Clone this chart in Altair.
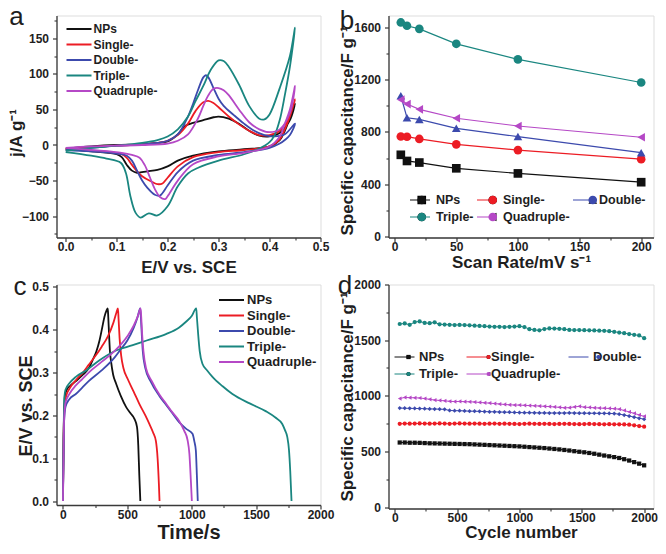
import altair as alt
import pandas as pd

FONT = "Liberation Sans"
INK = "#1e1e1e"
FRAME = "#3a3a3a"

series = ["NPs", "Single-", "Double-", "Triple-", "Quadruple-"]
colors = ["#111111", "#ec1c24", "#3c4aad", "#1a8680", "#b548c6"]

# ---------------- panel a : cyclic voltammograms (E / V, j / A g-1), in scan order
cv_x_nps = [0.00, 0.05, 0.10, 0.15, 0.18, 0.20, 0.22, 0.235, 0.25, 0.27, 0.29, 0.30, 0.32, 0.34, 0.36, 0.38, 0.40, 0.42, 0.44, 0.45,
            0.44, 0.43, 0.42, 0.40, 0.35, 0.30, 0.25, 0.22, 0.20, 0.18, 0.16, 0.14, 0.13, 0.12, 0.11, 0.10, 0.05, 0.00]
cv_y_nps = [-5, -2, 0, 1, 3, 5, 15, 27, 31, 35, 39, 40, 37, 30, 20, 13, 12, 17, 35, 58,
            38, 20, 7, -2, -6, -9, -15, -22, -30, -35, -37, -39, -36, -28, -17, -13, -9, -5]
cv_x_single = [0.00, 0.05, 0.10, 0.15, 0.18, 0.20, 0.22, 0.24, 0.255, 0.27, 0.28, 0.29, 0.30, 0.32, 0.34, 0.36, 0.38, 0.40, 0.42, 0.44, 0.45,
               0.44, 0.43, 0.42, 0.40, 0.35, 0.30, 0.25, 0.22, 0.20, 0.19, 0.18, 0.17, 0.15, 0.13, 0.12, 0.11, 0.05, 0.00]
cv_y_single = [-6, -3, -1, 1, 3, 6, 14, 30, 48, 60, 62, 59, 53, 40, 29, 20, 14, 14, 20, 42, 64,
               40, 22, 8, -2, -7, -10, -17, -30, -46, -54, -55, -52, -44, -28, -18, -13, -8, -6]
cv_x_double = [0.00, 0.05, 0.10, 0.15, 0.18, 0.20, 0.22, 0.24, 0.25, 0.26, 0.27, 0.275, 0.28, 0.29, 0.30, 0.31, 0.33, 0.35, 0.37, 0.39, 0.41, 0.43, 0.45,
               0.44, 0.43, 0.42, 0.40, 0.35, 0.30, 0.25, 0.22, 0.20, 0.185, 0.175, 0.16, 0.15, 0.14, 0.13, 0.12, 0.10, 0.05, 0.00]
cv_y_double = [-7, -4, -1, 1, 3, 6, 15, 40, 58, 78, 95, 98, 95, 80, 65, 55, 42, 30, 20, 14, 12, 15, 30,
               14, 7, 2, -4, -10, -14, -22, -38, -57, -71, -70, -60, -50, -36, -22, -15, -12, -9, -7]
cv_x_triple = [0.00, 0.05, 0.10, 0.15, 0.18, 0.20, 0.22, 0.24, 0.255, 0.27, 0.285, 0.30, 0.31, 0.32, 0.34, 0.36, 0.38, 0.39, 0.40, 0.42, 0.44, 0.45,
               0.44, 0.43, 0.42, 0.41, 0.40, 0.38, 0.35, 0.30, 0.26, 0.24, 0.22, 0.20, 0.18, 0.163, 0.147, 0.137, 0.127, 0.118, 0.108, 0.08, 0.05, 0.00]
cv_y_triple = [-8, -4, -1, 3, 7, 12, 22, 40, 62, 83, 106, 119, 118, 110, 85, 55, 37, 36, 43, 80, 125, 165,
               110, 70, 35, 14, 4, -5, -13, -22, -32, -40, -58, -86, -99, -96, -102, -95, -72, -39, -25, -19, -15, -10]
cv_x_quad = [0.00, 0.05, 0.10, 0.15, 0.20, 0.22, 0.24, 0.26, 0.27, 0.28, 0.29, 0.30, 0.31, 0.32, 0.34, 0.36, 0.38, 0.40, 0.42, 0.44, 0.45,
             0.44, 0.43, 0.42, 0.40, 0.35, 0.30, 0.25, 0.22, 0.20, 0.195, 0.185, 0.175, 0.165, 0.155, 0.145, 0.13, 0.11, 0.05, 0.00]
cv_y_quad = [-4, -2, -1, 0, 2, 6, 15, 38, 55, 70, 79, 80, 77, 70, 50, 32, 22, 18, 22, 45, 83,
             50, 30, 12, -2, -11, -16, -27, -50, -72, -76, -73, -62, -45, -28, -18, -14, -11, -7, -4]

# ---------------- panel b : specific capacitance vs scan rate
scan_rate = [5, 10, 20, 50, 100, 200]
cs_nps = [625, 578, 566, 522, 483, 416]
cs_single = [765, 763, 746, 705, 661, 592]
cs_double = [1075, 908, 895, 827, 764, 641]
cs_triple = [1635, 1610, 1586, 1472, 1353, 1177]
cs_quad = [1046, 1012, 972, 904, 845, 759]

# ---------------- panel c : galvanostatic charge / discharge (t / s, E / V)
gcd_t_nps = [0, 5, 15, 30, 60, 100, 155, 200, 232, 260, 284, 305, 322, 338, 348,
             352, 358, 365, 374, 390, 413, 450, 490, 525, 555, 575, 585, 593, 601]
gcd_e_nps = [0, 0.14, 0.245, 0.26, 0.27, 0.28, 0.295, 0.31, 0.33, 0.35, 0.375, 0.405, 0.43, 0.445, 0.45,
             0.43, 0.39, 0.35, 0.325, 0.295, 0.274, 0.245, 0.22, 0.205, 0.192, 0.173, 0.13, 0.06, 0]
gcd_t_single = [0, 5, 12, 25, 50, 100, 155, 200, 250, 300, 350, 390, 415, 427,
                432, 440, 452, 470, 503, 550, 593, 640, 671, 700, 722, 735, 745, 750]
gcd_e_single = [0, 0.15, 0.22, 0.245, 0.262, 0.282, 0.30, 0.318, 0.338, 0.36, 0.385, 0.415, 0.44, 0.45,
                0.425, 0.38, 0.34, 0.31, 0.285, 0.255, 0.227, 0.20, 0.18, 0.16, 0.14, 0.10, 0.04, 0]
gcd_t_double = [0, 8, 20, 50, 100, 150, 200, 300, 400, 450, 500, 550, 580, 600,
                605, 612, 620, 640, 680, 750, 800, 850, 900, 955, 1006, 1020, 1032, 1040, 1047]
gcd_e_double = [0, 0.18, 0.22, 0.238, 0.25, 0.265, 0.28, 0.305, 0.335, 0.355, 0.375, 0.405, 0.43, 0.45,
                0.43, 0.39, 0.35, 0.31, 0.28, 0.245, 0.225, 0.205, 0.185, 0.169, 0.157, 0.14, 0.118, 0.06, 0]
gcd_t_triple = [0, 5, 12, 20, 50, 100, 180, 284, 400, 542, 650, 800, 900, 960, 1000, 1035,
                1040, 1050, 1062, 1084, 1120, 1161, 1240, 1316, 1450, 1574, 1650, 1703, 1725, 1742, 1755, 1765, 1775]
gcd_e_triple = [0, 0.15, 0.245, 0.26, 0.275, 0.29, 0.305, 0.329, 0.35, 0.364, 0.375, 0.39, 0.405, 0.42, 0.432, 0.45,
                0.43, 0.39, 0.35, 0.32, 0.305, 0.29, 0.268, 0.25, 0.228, 0.21, 0.195, 0.18, 0.165, 0.15, 0.12, 0.07, 0]
gcd_t_quad = [0, 8, 20, 50, 100, 150, 200, 300, 400, 500, 550, 585, 603,
              608, 615, 625, 645, 690, 750, 800, 850, 900, 942, 968, 982, 993, 1001]
gcd_e_quad = [0, 0.18, 0.23, 0.25, 0.27, 0.285, 0.30, 0.325, 0.35, 0.385, 0.41, 0.435, 0.45,
              0.43, 0.39, 0.35, 0.31, 0.28, 0.248, 0.228, 0.207, 0.188, 0.164, 0.142, 0.11, 0.05, 0]

# ---------------- panel d : cycling stability (every 40 cycles)
cycles = list(range(40, 2001, 40))
cyc_nps = [580, 580, 578, 578, 577, 575, 573, 572, 571, 570, 569, 568, 567, 566, 565, 563, 561, 559, 557, 555,
           553, 551, 549, 547, 545, 542, 539, 536, 533, 530, 526, 522, 518, 513, 508, 502, 497, 492, 486, 479,
           471, 463, 456, 449, 441, 430, 418, 404, 390, 375]
cyc_single = [748, 750, 749, 750, 751, 750, 749, 750, 751, 750, 748, 750, 751, 750, 749, 750, 749, 748, 749, 750,
              748, 749, 748, 747, 746, 748, 749, 748, 747, 748, 747, 746, 747, 748, 747, 746, 745, 746, 747, 746,
              745, 744, 745, 744, 743, 742, 740, 735, 728, 722]
cyc_double = [890, 888, 887, 886, 885, 884, 882, 881, 880, 878, 868, 866, 866, 864, 862, 861, 860, 858, 856, 856,
              854, 853, 852, 850, 849, 848, 848, 847, 846, 846, 845, 845, 845, 845, 846, 845, 844, 844, 843, 843,
              842, 842, 841, 840, 835, 827, 818, 808, 798, 790]
cyc_triple = [1645, 1650, 1638, 1662, 1668, 1655, 1652, 1660, 1642, 1640, 1638, 1636, 1637, 1635, 1633, 1630, 1628, 1625, 1622, 1620,
              1620, 1618, 1620, 1622, 1625, 1618, 1598, 1592, 1588, 1600, 1605, 1604, 1602, 1598, 1592, 1590, 1590, 1589, 1588, 1587,
              1585, 1584, 1580, 1575, 1568, 1562, 1555, 1548, 1542, 1518]
cyc_quad = [975, 985, 983, 982, 980, 975, 968, 962, 958, 955, 950, 948, 949, 947, 946, 944, 940, 937, 934, 930,
            926, 922, 919, 917, 916, 914, 912, 910, 908, 905, 903, 900, 896, 892, 893, 900, 905, 898, 895, 892,
            890, 888, 886, 884, 880, 868, 855, 842, 828, 815]


def build(pairs):
    rows = []
    for name, (xs, ys) in zip(series, pairs):
        for i, (xv, yv) in enumerate(zip(xs, ys)):
            rows.append({"s": name, "sh": name, "x": xv, "y": yv, "i": i})
    return pd.DataFrame(rows)


df_a = build([(cv_x_nps, cv_y_nps), (cv_x_single, cv_y_single), (cv_x_double, cv_y_double),
              (cv_x_triple, cv_y_triple), (cv_x_quad, cv_y_quad)])
df_b = build([(scan_rate, cs_nps), (scan_rate, cs_single), (scan_rate, cs_double),
              (scan_rate, cs_triple), (scan_rate, cs_quad)])
df_c = build([(gcd_t_nps, gcd_e_nps), (gcd_t_single, gcd_e_single), (gcd_t_double, gcd_e_double),
              (gcd_t_triple, gcd_e_triple), (gcd_t_quad, gcd_e_quad)])
df_d = build([(cycles, cyc_nps), (cycles, cyc_single), (cycles, cyc_double),
              (cycles, cyc_triple), (cycles, cyc_quad)])

color_scale = alt.Scale(domain=series, range=colors)


def axis(**kw):
    base = dict(labelFont=FONT, labelFontSize=12, labelFontWeight="bold", labelColor=INK,
                titleFont=FONT, titleFontSize=17, titleFontWeight="bold", titleColor=INK,
                domainColor=FRAME, domainWidth=1.3, tickColor=FRAME, tickWidth=1.2,
                tickSize=4, grid=False, labelFlush=False, labelOverlap=False)
    base.update(kw)
    return alt.Axis(**base)


def xaxis(values, title, ty, fmt="d", tfs=17):
    return axis(values=values, format=fmt, title=title, orient="bottom", labelPadding=0,
                titleY=ty, titleFontSize=tfs)


def yaxis(values, title, tx, ty, fmt="d", tfs=17):
    return axis(values=values, format=fmt, title=title, orient="left", labelPadding=4,
                titleX=tx, titleY=ty, titleFontSize=tfs)


def minor_axis(values, orient):
    return alt.Axis(values=values, labels=False, ticks=True, tickSize=2.5, tickWidth=1.1,
                    tickColor=FRAME, domain=False, grid=False, title=None, orient=orient)


def stroke_legend(x, y, size, ext, off, rowpad, clip, sw, columns=1, colpad=10):
    return alt.Legend(orient="none", legendX=x, legendY=y, title=None, padding=0,
                      direction="horizontal" if columns > 1 else "vertical",
                      labelFont=FONT, labelFontSize=size, labelFontWeight="bold", labelColor=INK,
                      symbolType="stroke", symbolSize=ext * ext, symbolStrokeWidth=sw,
                      labelOffset=off, rowPadding=rowpad, clipHeight=clip, columns=columns,
                      columnPadding=colpad, labelLimit=0)


def shape_legend(x, y, size, off, rowpad, clip, msize, columns=3, colpad=10):
    return alt.Legend(orient="none", legendX=x, legendY=y, title=None, padding=0,
                      direction="horizontal",
                      labelFont=FONT, labelFontSize=size, labelFontWeight="bold", labelOpacity=0,
                      symbolSize=msize, symbolStrokeWidth=0, symbolOpacity=1,
                      labelOffset=off, rowPadding=rowpad, clipHeight=clip, columns=columns,
                      columnPadding=colpad, labelLimit=0)


def decorate(layers, df, xs, ys, xminor, yminor, letter, lx, ly, w, h):
    minor = alt.Chart(df).mark_point(opacity=0, size=1).encode(
        x=alt.X("x:Q", scale=xs, axis=minor_axis(xminor, "bottom")),
        y=alt.Y("y:Q", scale=ys, axis=minor_axis(yminor, "left")))
    lab = alt.Chart(pd.DataFrame({"t": [letter]})).mark_text(
        font=FONT, fontSize=26, align="center", baseline="alphabetic", color=INK
    ).encode(text="t:N", x=alt.value(lx), y=alt.value(ly))
    return alt.layer(*layers, minor, lab).resolve_axis(
        x="independent", y="independent").properties(width=w, height=h)


# ---------------- panel a
xs_a = alt.Scale(domain=[-0.018, 0.5], nice=False, zero=False)
ys_a = alt.Scale(domain=[-130, 182], nice=False, zero=False)
line_a = alt.Chart(df_a).mark_line(strokeWidth=1.8, interpolate="catmull-rom").encode(
    x=alt.X("x:Q", scale=xs_a, axis=xaxis([0, 0.1, 0.2, 0.3, 0.4, 0.5], "E/V vs. SCE", 22, fmt=".1f")),
    y=alt.Y("y:Q", scale=ys_a, axis=yaxis([-100, -50, 0, 50, 100, 150], "j/A g⁻¹", -31.5, 117)),
    color=alt.Color("s:N", scale=color_scale,
                    legend=stroke_legend(9, 7, 12, 25, 1, 2.5, 13, 1.8)),
    order="i:Q")
panel_a = decorate([line_a], df_a, xs_a, ys_a,
                   [0.05, 0.15, 0.25, 0.35, 0.45], [-125, -75, -25, 25, 75, 125, 175],
                   "a", -40, 9, 264, 222)

# ---------------- panel b
xs_b = alt.Scale(domain=[-5, 210], nice=False, zero=False)
ys_b = alt.Scale(domain=[-6, 1688], nice=False, zero=False)
line_b = alt.Chart(df_b).mark_line(strokeWidth=1.2).encode(
    x=alt.X("x:Q", scale=xs_b, axis=xaxis([0, 50, 100, 150, 200], "Scan Rate/mV s⁻¹", 17)),
    y=alt.Y("y:Q", scale=ys_b, axis=yaxis([0, 400, 800, 1200, 1600], "Specific capacitance/F g⁻¹", -32, 115)),
    color=alt.Color("s:N", scale=color_scale,
                    legend=stroke_legend(20.5, 177.5, 12.5, 20, 5, 3, 14, 1.2, columns=3, colpad=2)))
LEG_B = shape_legend(20.5 + 6.5, 177.5, 12.5, 5 + 13, 3, 14, 75, colpad=2)
pt_b = alt.Chart(df_b).mark_point(filled=True, size=75, opacity=1, strokeWidth=0).encode(
    x=alt.X("x:Q", scale=xs_b, axis=None),
    y=alt.Y("y:Q", scale=ys_b, axis=None),
    fill=alt.Fill("sh:N", sort=series, scale=alt.Scale(range=colors), legend=LEG_B),
    shape=alt.Shape("sh:N", sort=series,
                    scale=alt.Scale(range=["square", "circle", "triangle-up", "circle", "triangle-left"]),
                    legend=LEG_B))
panel_b = decorate([line_b, pt_b], df_b, xs_b, ys_b,
                   [25, 75, 125, 175], [200, 600, 1000, 1400],
                   "b", -41.5, 13.5, 265, 222)

# ---------------- panel c
xs_c = alt.Scale(domain=[-50, 2000], nice=False, zero=False)
ys_c = alt.Scale(domain=[-0.0093, 0.5058], nice=False, zero=False)
line_c = alt.Chart(df_c).mark_line(strokeWidth=1.8, interpolate="monotone").encode(
    x=alt.X("x:Q", scale=xs_c, axis=xaxis([0, 500, 1000, 1500, 2000], "Time/s", 17.2, tfs=20)),
    y=alt.Y("y:Q", scale=ys_c, axis=yaxis([0, 0.1, 0.2, 0.3, 0.4, 0.5], "E/V vs. SCE", -21, 121,
                                          fmt=".1f", tfs=18)),
    color=alt.Color("s:N", scale=color_scale,
                    legend=stroke_legend(161.5, 9, 13, 25, 2, 1.5, 13, 1.8)),
    order="i:Q")
panel_c = decorate([line_c], df_c, xs_c, ys_c,
                   [250, 750, 1250, 1750], [0.05, 0.15, 0.25, 0.35, 0.45],
                   "c", -36.5, 10.5, 264, 220.5)

# ---------------- panel d
xs_d = alt.Scale(domain=[-50, 2075], nice=False, zero=False)
ys_d = alt.Scale(domain=[-13, 2000], nice=False, zero=False)
line_d = alt.Chart(df_d).mark_line(strokeWidth=1).encode(
    x=alt.X("x:Q", scale=xs_d, axis=xaxis([0, 500, 1000, 1500, 2000], "Cycle number", 16)),
    y=alt.Y("y:Q", scale=ys_d, axis=yaxis([0, 500, 1000, 1500, 2000], "Specific capacitance/F g⁻¹", -32, 112)),
    color=alt.Color("s:N", scale=color_scale,
                    legend=stroke_legend(5.5, 65.5, 13, 20, 4, 3, 14, 1, columns=3, colpad=7)))
LEG_D = shape_legend(5.5 + 8, 65.5, 13, 4 + 16, 3, 14, 18, colpad=7)
pt_d = alt.Chart(df_d).mark_point(filled=True, size=18, opacity=1, strokeWidth=0).encode(
    x=alt.X("x:Q", scale=xs_d, axis=None),
    y=alt.Y("y:Q", scale=ys_d, axis=None),
    fill=alt.Fill("sh:N", sort=series, scale=alt.Scale(range=colors), legend=LEG_D),
    shape=alt.Shape("sh:N", sort=series,
                    scale=alt.Scale(range=["square", "circle", "diamond", "circle", "triangle-left"]),
                    legend=LEG_D))
panel_d = decorate([line_d, pt_d], df_d, xs_d, ys_d,
                   [250, 750, 1250, 1750], [250, 750, 1250, 1750],
                   "d", -43.5, 9.5, 265, 224)

# fixed canvas: plot a's corner sits at (48.5, 7.5) inside a 650 x 532 picture
chart = alt.concat(panel_a, panel_b, panel_c, panel_d, columns=2,
                   spacing={"row": 47, "column": 68}, bounds="flush").resolve_scale(
    x="independent", y="independent", color="independent", fill="independent", shape="independent"
).resolve_legend(color="independent", fill="independent", shape="independent").properties(
    autosize=alt.AutoSizeParams(type="none"),
    padding={"left": 48.5, "top": 7.5, "right": 601.5, "bottom": 524.5}
).configure_view(stroke=FRAME, strokeWidth=1.3).configure(font=FONT)

chart.save("out.html", embed_options={"renderer": "svg", "actions": False})
